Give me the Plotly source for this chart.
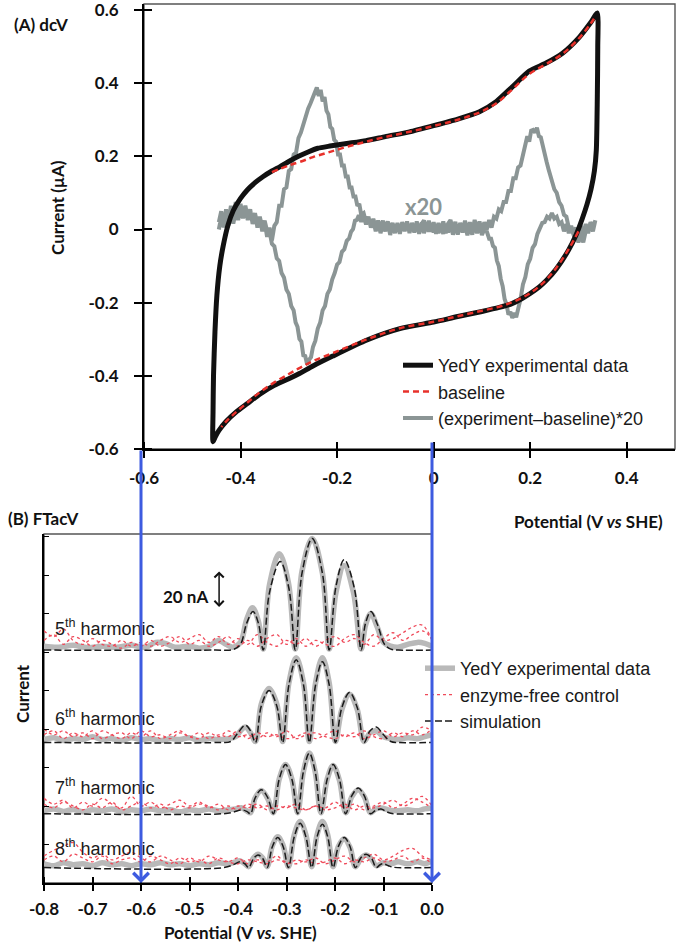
import plotly.graph_objects as go

W, H = 681, 942

# ================= Panel A : dcV =================
dcv_xticks = [-0.6, -0.4, -0.2, 0.0, 0.2, 0.4]
dcv_xticktext = ["-0.6", "-0.4", "-0.2", "0", "0.2", "0.4"]
dcv_yticks = [-0.6, -0.4, -0.2, 0.0, 0.2, 0.4, 0.6]
dcv_yticktext = ["-0.6", "-0.4", "-0.2", "0", "0.2", "0.4", "0.6"]

# YedY experimental dcV loop (V, uA)
cv_loop = [
    (-0.457, -0.580), (-0.457, -0.50), (-0.456, -0.40), (-0.453, -0.28), (-0.449, -0.18),
    (-0.443, -0.10), (-0.436, -0.045), (-0.426, 0.012), (-0.415, 0.052), (-0.400, 0.085),
    (-0.386, 0.108), (-0.370, 0.128), (-0.353, 0.145), (-0.335, 0.160), (-0.318, 0.172),
    (-0.300, 0.186), (-0.280, 0.200), (-0.260, 0.212), (-0.240, 0.222), (-0.215, 0.228),
    (-0.180, 0.235), (-0.140, 0.243), (-0.100, 0.254), (-0.050, 0.267), (0.000, 0.284),
    (0.050, 0.302), (0.095, 0.322), (0.130, 0.350), (0.163, 0.390), (0.198, 0.433),
    (0.233, 0.455), (0.267, 0.482), (0.302, 0.526), (0.325, 0.565), (0.339, 0.592),
    (0.340, 0.500), (0.339, 0.354), (0.337, 0.217), (0.333, 0.160), (0.326, 0.110),
    (0.318, 0.070), (0.308, 0.030), (0.295, -0.015), (0.280, -0.055), (0.254, -0.108),
    (0.235, -0.137), (0.219, -0.157), (0.200, -0.175), (0.184, -0.188), (0.160, -0.204),
    (0.136, -0.213), (0.100, -0.224), (0.050, -0.238), (0.000, -0.253), (-0.070, -0.271),
    (-0.138, -0.302), (-0.209, -0.346), (-0.250, -0.373), (-0.277, -0.393), (-0.300, -0.408),
    (-0.330, -0.426), (-0.360, -0.450), (-0.385, -0.475), (-0.410, -0.500), (-0.430, -0.525),
    (-0.445, -0.550), (-0.452, -0.566), (-0.457, -0.580),
]

# baseline (capacitive) upper and lower branches
baseline_up = [
    (-0.335, 0.157), (-0.300, 0.175), (-0.270, 0.188), (-0.250, 0.198), (-0.220, 0.210),
    (-0.180, 0.226), (-0.140, 0.240), (-0.100, 0.253), (-0.050, 0.267), (0.000, 0.283),
    (0.050, 0.300), (0.095, 0.320), (0.130, 0.345), (0.163, 0.383), (0.198, 0.425),
    (0.233, 0.452), (0.267, 0.480), (0.302, 0.524), (0.325, 0.562), (0.334, 0.580),
]
baseline_dn = [
    (0.300, -0.005), (0.280, -0.053), (0.254, -0.105), (0.235, -0.135), (0.219, -0.155),
    (0.200, -0.174), (0.184, -0.186), (0.160, -0.200), (0.136, -0.211), (0.100, -0.222),
    (0.050, -0.237), (0.000, -0.252), (-0.070, -0.270), (-0.138, -0.300), (-0.209, -0.338),
    (-0.250, -0.360), (-0.277, -0.378), (-0.300, -0.395), (-0.330, -0.418), (-0.360, -0.445),
    (-0.385, -0.472), (-0.410, -0.500), (-0.430, -0.525), (-0.440, -0.540),
]

# (experiment - baseline) * 20, forward scan
x20_forward = [
    (-0.445, 0.02), (-0.440, 0.05), (-0.435, 0.01), (-0.430, 0.055), (-0.425, 0.02),
    (-0.420, 0.065), (-0.415, 0.025), (-0.410, 0.075), (-0.405, 0.04), (-0.400, 0.07),
    (-0.395, 0.035), (-0.390, 0.065), (-0.385, 0.03), (-0.380, 0.055), (-0.375, 0.015),
    (-0.370, 0.045), (-0.365, 0.005), (-0.360, 0.035), (-0.355, -0.005), (-0.350, 0.02),
    (-0.345, -0.02), (-0.340, 0.005), (-0.335, -0.03), (-0.330, 0.01), (-0.325, 0.02),
    (-0.320, 0.065), (-0.315, 0.065), (-0.310, 0.11), (-0.305, 0.115), (-0.300, 0.16),
    (-0.295, 0.165), (-0.290, 0.205), (-0.285, 0.21), (-0.280, 0.25), (-0.275, 0.265),
    (-0.270, 0.29), (-0.265, 0.305), (-0.260, 0.33), (-0.255, 0.345), (-0.250, 0.36),
    (-0.246, 0.37), (-0.242, 0.388), (-0.238, 0.365), (-0.234, 0.382), (-0.230, 0.35),
    (-0.226, 0.362), (-0.222, 0.325), (-0.218, 0.315), (-0.214, 0.28), (-0.210, 0.275),
    (-0.206, 0.245), (-0.202, 0.24), (-0.198, 0.205), (-0.194, 0.205), (-0.190, 0.175),
    (-0.186, 0.175), (-0.182, 0.145), (-0.178, 0.145), (-0.174, 0.115), (-0.170, 0.115),
    (-0.166, 0.09), (-0.162, 0.09), (-0.158, 0.065), (-0.154, 0.07), (-0.150, 0.04),
    (-0.145, 0.045), (-0.140, 0.02), (-0.135, 0.035), (-0.130, 0.005), (-0.125, 0.025),
    (-0.120, -0.005), (-0.115, 0.02), (-0.110, -0.01), (-0.105, 0.015), (-0.100, -0.005),
    (-0.095, 0.02), (-0.090, -0.015), (-0.085, 0.015), (-0.080, -0.01), (-0.075, 0.018),
    (-0.070, -0.012), (-0.065, 0.02), (-0.060, -0.005), (-0.055, 0.022), (-0.050, -0.01),
    (-0.045, 0.018), (-0.040, -0.005), (-0.035, 0.022), (-0.030, -0.012), (-0.025, 0.015),
    (-0.020, 0.025), (-0.015, -0.004), (-0.010, 0.024), (-0.005, -0.006), (0.000, 0.02),
    (0.005, -0.012), (0.010, 0.018), (0.015, -0.006), (0.020, 0.022), (0.025, -0.01),
    (0.030, 0.016), (0.035, 0.026), (0.040, -0.006), (0.045, 0.021), (0.050, -0.014),
    (0.055, 0.018), (0.060, -0.004), (0.065, 0.024), (0.070, -0.01), (0.075, 0.02),
    (0.080, -0.006), (0.085, 0.026), (0.090, -0.002), (0.095, 0.022), (0.100, -0.008),
    (0.105, 0.02), (0.110, 0.0), (0.115, 0.026), (0.120, 0.005), (0.125, 0.035),
    (0.130, 0.03), (0.135, 0.055), (0.140, 0.05), (0.145, 0.075), (0.150, 0.075),
    (0.155, 0.105), (0.160, 0.105), (0.165, 0.14), (0.170, 0.14), (0.175, 0.17),
    (0.180, 0.175), (0.185, 0.205), (0.190, 0.23), (0.194, 0.255), (0.198, 0.24),
    (0.202, 0.27), (0.206, 0.272), (0.210, 0.265), (0.214, 0.278), (0.218, 0.255),
    (0.222, 0.252), (0.226, 0.225), (0.230, 0.21), (0.234, 0.185), (0.238, 0.165),
    (0.242, 0.145), (0.246, 0.13), (0.250, 0.11), (0.255, 0.1), (0.260, 0.075),
    (0.265, 0.065), (0.270, 0.04), (0.275, 0.035), (0.280, 0.005), (0.285, 0.005),
    (0.290, -0.015), (0.295, -0.015), (0.300, -0.035), (0.305, -0.015), (0.310, -0.035),
    (0.315, -0.005), (0.320, -0.005), (0.325, 0.02), (0.330, 0.005), (0.335, 0.025),
]
# reverse scan
x20_reverse = [
    (0.330, -0.005), (0.325, 0.015), (0.320, -0.01), (0.315, 0.015), (0.310, -0.015),
    (0.305, 0.01), (0.300, -0.02), (0.295, 0.005), (0.290, -0.01), (0.285, 0.01),
    (0.280, -0.01), (0.275, 0.015), (0.270, -0.005), (0.265, 0.02), (0.260, 0.015),
    (0.255, 0.035), (0.250, 0.03), (0.245, 0.045), (0.240, 0.03), (0.235, 0.035),
    (0.230, 0.02), (0.225, 0.018), (0.220, 0.0), (0.215, -0.012), (0.210, -0.04),
    (0.205, -0.05), (0.200, -0.08), (0.195, -0.095), (0.190, -0.13), (0.185, -0.15),
    (0.180, -0.19), (0.175, -0.215), (0.171, -0.24), (0.167, -0.228), (0.163, -0.242),
    (0.159, -0.225), (0.155, -0.233), (0.151, -0.205), (0.147, -0.19), (0.143, -0.155),
    (0.139, -0.135), (0.135, -0.1), (0.131, -0.085), (0.127, -0.05), (0.123, -0.045),
    (0.119, -0.025), (0.115, -0.025), (0.110, -0.005), (0.105, 0.0), (0.100, -0.015),
    (0.095, 0.012), (0.090, -0.01), (0.085, 0.015), (0.080, -0.014), (0.075, 0.01),
    (0.070, -0.016), (0.065, 0.012), (0.060, -0.008), (0.055, 0.016), (0.050, -0.012),
    (0.045, 0.01), (0.040, -0.014), (0.035, 0.014), (0.030, -0.008), (0.025, 0.016),
    (0.020, -0.012), (0.015, 0.01), (0.010, -0.01), (0.005, 0.014), (0.000, -0.008),
    (-0.005, 0.016), (-0.010, -0.006), (-0.015, 0.014), (-0.020, -0.01), (-0.025, 0.018),
    (-0.030, -0.004), (-0.035, 0.016), (-0.040, -0.008), (-0.045, 0.014), (-0.050, -0.004),
    (-0.055, 0.018), (-0.060, -0.002), (-0.065, 0.02), (-0.070, -0.004), (-0.075, 0.016),
    (-0.080, -0.006), (-0.085, 0.018), (-0.090, 0.0), (-0.095, 0.022), (-0.100, 0.002),
    (-0.105, 0.024), (-0.110, 0.004), (-0.115, 0.024), (-0.120, 0.008), (-0.125, 0.029),
    (-0.130, 0.011), (-0.135, 0.032), (-0.140, 0.014), (-0.145, 0.036), (-0.150, 0.021),
    (-0.155, 0.039), (-0.159, 0.026), (-0.163, 0.024), (-0.167, 0.001), (-0.171, -0.006),
    (-0.175, -0.024), (-0.180, -0.031), (-0.185, -0.054), (-0.190, -0.061), (-0.195, -0.089),
    (-0.200, -0.096), (-0.205, -0.119), (-0.210, -0.136), (-0.215, -0.164), (-0.220, -0.176),
    (-0.225, -0.209), (-0.230, -0.221), (-0.235, -0.254), (-0.240, -0.271), (-0.245, -0.304),
    (-0.250, -0.321), (-0.254, -0.349), (-0.258, -0.356), (-0.262, -0.369), (-0.266, -0.346),
    (-0.270, -0.344), (-0.274, -0.306), (-0.278, -0.299), (-0.282, -0.266), (-0.286, -0.254),
    (-0.290, -0.221), (-0.295, -0.209), (-0.300, -0.176), (-0.305, -0.164), (-0.310, -0.131),
    (-0.315, -0.119), (-0.320, -0.086), (-0.325, -0.079), (-0.330, -0.046), (-0.335, -0.039),
    (-0.340, -0.006), (-0.345, -0.004), (-0.350, 0.024), (-0.355, 0.006), (-0.360, 0.034),
    (-0.365, 0.016), (-0.370, 0.044), (-0.375, 0.021), (-0.380, 0.049), (-0.385, 0.026),
    (-0.390, 0.054), (-0.395, 0.031), (-0.400, 0.054), (-0.405, 0.026), (-0.410, 0.049),
    (-0.415, 0.016), (-0.420, 0.044), (-0.425, 0.011), (-0.430, 0.039), (-0.435, 0.006),
    (-0.440, 0.034), (-0.445, 0.0),
]

# ================= Panel B : FTacV =================
ftacv_xticks = [-0.8, -0.7, -0.6, -0.5, -0.4, -0.3, -0.2, -0.1, 0.0]
ftacv_xticktext = ["-0.8", "-0.7", "-0.6", "-0.5", "-0.4", "-0.3", "-0.2", "-0.1", "0.0"]
ftacv_yticks = [0, 20, 40, 60, 80, 100, 120, 140, 160, 180]   # nA
harmonic_numbers = [5, 6, 7, 8]
harmonic_offsets = [121, 73, 36, 8]                            # nA stacking offsets

sim5 = [(-0.80, 0), (-0.45, 0), (-0.41, 0.3), (-0.395, 3), (-0.382, 14), (-0.369, 20),
        (-0.358, 14), (-0.348, 0), (-0.335, 30), (-0.313, 46), (-0.295, 32), (-0.282, 0),
        (-0.268, 40), (-0.247, 58), (-0.226, 40), (-0.212, 0), (-0.198, 33), (-0.181, 47),
        (-0.160, 32), (-0.146, 0), (-0.137, 14), (-0.126, 20), (-0.112, 13), (-0.098, 3),
        (-0.085, 0.5), (-0.07, 0), (0.0, 0)]
sim6 = [(-0.80, 0), (-0.44, 0), (-0.415, 0.5), (-0.40, 5), (-0.385, 9), (-0.374, 6),
        (-0.364, 0), (-0.352, 19), (-0.336, 27), (-0.32, 19), (-0.308, 0), (-0.295, 30),
        (-0.28, 43), (-0.265, 30), (-0.253, 0), (-0.24, 30), (-0.226, 42), (-0.212, 30),
        (-0.199, 0), (-0.186, 18), (-0.17, 26), (-0.154, 18), (-0.14, 0), (-0.128, 6),
        (-0.115, 8), (-0.10, 4), (-0.085, 0.5), (-0.07, 0), (0.0, 0)]
sim7 = [(-0.80, 0), (-0.43, 0), (-0.41, 0.8), (-0.392, 2), (-0.382, 1.2), (-0.374, 0),
        (-0.365, 8), (-0.352, 12.5), (-0.339, 8.5), (-0.327, 0), (-0.315, 18), (-0.302, 25.5),
        (-0.289, 18), (-0.277, 0), (-0.265, 22), (-0.253, 31.5), (-0.241, 22), (-0.229, 0),
        (-0.216, 18), (-0.204, 25.5), (-0.191, 18), (-0.178, 0), (-0.165, 9.5), (-0.152, 13.3),
        (-0.139, 9), (-0.127, 0), (-0.116, 1.8), (-0.105, 2.4), (-0.095, 1.2), (-0.085, 0.2),
        (0.0, 0)]
sim8 = [(-0.80, 0), (-0.43, 0), (-0.41, 1.5), (-0.396, 3), (-0.386, 2), (-0.378, 0),
        (-0.368, 4.7), (-0.359, 6.6), (-0.349, 4.7), (-0.340, 0), (-0.329, 11), (-0.318, 15.6),
        (-0.307, 11), (-0.296, 0), (-0.284, 16), (-0.272, 23), (-0.260, 16), (-0.248, 0),
        (-0.237, 16), (-0.226, 22.5), (-0.215, 16), (-0.204, 0), (-0.193, 11), (-0.181, 15.6),
        (-0.169, 11), (-0.158, 0), (-0.147, 5), (-0.136, 7), (-0.125, 5), (-0.115, 0),
        (-0.107, 1.5), (-0.10, 2), (-0.09, 1), (-0.08, 0.2), (0.0, 0)]

exp5 = [(-0.80, 2), (-0.77, 1.5), (-0.74, 2.5), (-0.71, 1.2), (-0.68, 2), (-0.65, 1.5),
        (-0.62, 2.5), (-0.59, 1.5), (-0.57, 4), (-0.55, 3.5), (-0.53, 1.5), (-0.50, 2),
        (-0.48, 1), (-0.46, 2), (-0.44, 5), (-0.425, 3), (-0.41, 1.5), (-0.395, 4),
        (-0.382, 16), (-0.370, 22), (-0.358, 15), (-0.348, 0.5), (-0.335, 34), (-0.315, 50),
        (-0.296, 35), (-0.282, 0.5), (-0.268, 41), (-0.247, 58), (-0.226, 40), (-0.212, 0.5),
        (-0.198, 30), (-0.181, 44), (-0.162, 30), (-0.146, 0.5), (-0.137, 13), (-0.126, 19),
        (-0.113, 12), (-0.10, 4), (-0.085, 2), (-0.07, 1.5), (-0.05, 3), (-0.03, 4),
        (-0.015, 3.5), (0.0, 2)]
exp6 = [(-0.80, 1.5), (-0.78, 2.5), (-0.76, 1), (-0.74, 2), (-0.72, 1.5), (-0.70, 3),
        (-0.68, 1.5), (-0.66, 2), (-0.64, 1), (-0.62, 2.5), (-0.60, 1.5), (-0.58, 2),
        (-0.56, 1), (-0.54, 2), (-0.52, 1.5), (-0.50, 2.5), (-0.48, 1), (-0.46, 2),
        (-0.44, 1.5), (-0.42, 2), (-0.405, 3), (-0.395, 6), (-0.385, 8), (-0.374, 5),
        (-0.364, 0.5), (-0.352, 20), (-0.336, 28), (-0.32, 20), (-0.308, 0.5), (-0.295, 31),
        (-0.28, 44), (-0.265, 31), (-0.253, 0.5), (-0.24, 31), (-0.226, 44), (-0.212, 31),
        (-0.199, 0.5), (-0.186, 17), (-0.17, 25), (-0.154, 17), (-0.14, 0.5), (-0.128, 5),
        (-0.115, 6), (-0.10, 3), (-0.085, 2), (-0.07, 1.5), (-0.05, 2.5), (-0.03, 2),
        (-0.015, 3), (0.0, 4)]
exp7 = [(-0.80, 1.5), (-0.78, 2.5), (-0.76, 1.2), (-0.74, 2.2), (-0.72, 1), (-0.70, 2),
        (-0.68, 1.5), (-0.66, 2.5), (-0.64, 1), (-0.62, 2), (-0.60, 1.5), (-0.58, 2.5),
        (-0.56, 1.5), (-0.54, 2), (-0.52, 1), (-0.50, 2), (-0.48, 1.5), (-0.46, 2.5),
        (-0.44, 1.5), (-0.42, 2), (-0.405, 2.5), (-0.392, 3), (-0.382, 1.5), (-0.374, 0.5),
        (-0.365, 8), (-0.352, 12), (-0.339, 8), (-0.327, 0.5), (-0.315, 18), (-0.302, 25.5),
        (-0.289, 18), (-0.277, 0.5), (-0.265, 22), (-0.253, 31.5), (-0.241, 22), (-0.229, 0.5),
        (-0.216, 18), (-0.204, 25), (-0.191, 17.5), (-0.178, 0.5), (-0.165, 9), (-0.152, 12.5),
        (-0.139, 8.5), (-0.127, 0.5), (-0.116, 2.5), (-0.105, 3), (-0.09, 2), (-0.07, 1.5),
        (-0.05, 2), (-0.03, 1.5), (-0.015, 2.5), (0.0, 3)]
exp8 = [(-0.80, 2), (-0.78, 1), (-0.76, 2.5), (-0.74, 1.5), (-0.72, 2), (-0.70, 1),
        (-0.68, 2.5), (-0.66, 1.5), (-0.64, 2), (-0.62, 1), (-0.60, 2), (-0.58, 1.5),
        (-0.56, 2.5), (-0.54, 1.5), (-0.52, 2), (-0.50, 1), (-0.48, 2), (-0.46, 1.5),
        (-0.44, 2.5), (-0.42, 2), (-0.405, 3), (-0.396, 3.5), (-0.386, 2), (-0.378, 0.5),
        (-0.368, 5), (-0.359, 7), (-0.349, 5), (-0.340, 0.5), (-0.329, 11.5), (-0.318, 16),
        (-0.307, 11.5), (-0.296, 0.5), (-0.284, 17), (-0.272, 24), (-0.260, 17), (-0.248, 0.5),
        (-0.237, 17), (-0.226, 24), (-0.215, 17), (-0.204, 0.5), (-0.193, 11), (-0.181, 15),
        (-0.169, 10.5), (-0.158, 0.5), (-0.147, 4.5), (-0.136, 6.5), (-0.125, 4.5), (-0.115, 1),
        (-0.10, 2.5), (-0.085, 2), (-0.07, 3), (-0.05, 2), (-0.03, 3), (-0.015, 2), (0.0, 3.5)]

control_potential = [-0.80, -0.78, -0.76, -0.74, -0.72, -0.70, -0.68, -0.66, -0.64, -0.62,
                     -0.60, -0.58, -0.56, -0.54, -0.52, -0.50, -0.48, -0.46, -0.44, -0.42,
                     -0.40, -0.38, -0.36, -0.34, -0.32, -0.30, -0.28, -0.26, -0.24, -0.22,
                     -0.20, -0.18, -0.16, -0.14, -0.12, -0.10, -0.08, -0.06, -0.04, -0.02, 0.0]
ctl5a = [10, 7, 11, 5, 3, 6, 3, 2, 5, 2, 4, 2, 5, 7, 4, 6, 8, 4, 7, 3, 6, 3, 8, 4, 2, 5, 3, 6, 2, 5, 7, 4, 6, 3, 8, 5, 6, 9, 12, 13, 5]
ctl5b = [5, 8, 3, 7, 5, 2, 5, 3, 1, 4, 2, 5, 2, 4, 7, 3, 5, 2, 4, 7, 2, 5, 2, 6, 8, 3, 6, 2, 5, 3, 2, 6, 8, 4, 2, 6, 9, 5, 8, 10, 6]
ctl6a = [7, 4, 6, 3, 5, 2, 6, 4, 2, 5, 3, 6, 2, 4, 6, 3, 5, 2, 4, 3, 6, 2, 5, 3, 4, 2, 3, 5, 2, 4, 6, 3, 5, 2, 4, 6, 3, 5, 4, 8, 6]
ctl6b = [4, 6, 2, 5, 3, 6, 2, 4, 5, 2, 6, 3, 4, 2, 5, 3, 2, 5, 3, 6, 3, 4, 2, 5, 3, 6, 2, 4, 5, 3, 2, 4, 3, 6, 3, 2, 5, 3, 6, 4, 7]
ctl7a = [8, 5, 7, 3, 6, 4, 8, 5, 3, 9, 4, 6, 3, 5, 7, 4, 6, 3, 5, 2, 4, 3, 5, 2, 4, 3, 5, 2, 4, 3, 6, 3, 5, 2, 4, 6, 3, 5, 8, 6, 3]
ctl7b = [5, 3, 6, 4, 2, 5, 3, 6, 2, 4, 6, 3, 5, 2, 4, 3, 5, 4, 2, 4, 2, 5, 3, 4, 2, 4, 3, 2, 4, 2, 3, 5, 2, 4, 3, 5, 7, 4, 6, 9, 4]
ctl8a = [6, 9, 11, 13, 8, 5, 7, 4, 6, 8, 5, 3, 6, 4, 2, 5, 3, 6, 4, 3, 5, 2, 4, 3, 6, 2, 4, 3, 5, 2, 4, 6, 3, 5, 7, 4, 6, 9, 10, 6, 4]
ctl8b = [4, 6, 3, 7, 5, 3, 6, 2, 4, 5, 3, 6, 4, 2, 5, 3, 4, 2, 5, 3, 2, 4, 3, 2, 4, 3, 2, 4, 2, 3, 5, 2, 4, 3, 5, 3, 4, 6, 3, 5, 2]

sims = [sim5, sim6, sim7, sim8]
exps = [exp5, exp6, exp7, exp8]
controls = [(ctl5a, ctl5b), (ctl6a, ctl6b), (ctl7a, ctl7b), (ctl8a, ctl8b)]


def px(p):
    return [a for a, _ in p]


def py(p, off=0):
    return [b + off for _, b in p]


# ---- colours / fonts ----
BLACK = "#111111"
RED = "#e8312b"
GRAY_A = "#8b9595"
GRAY_B = "#b9b9b9"
RED_DOT = "#ef4a5a"
BLUE = "#3d5be0"
BOLD = dict(family="Lato, Open Sans, sans-serif", size=17, color="#111111", weight=700)
REG = "Liberation Sans, Arial, sans-serif"

fig = go.Figure()

# ----- Panel A traces -----
fig.add_trace(go.Scatter(x=px(x20_forward) + px(x20_reverse), y=py(x20_forward) + py(x20_reverse),
                         mode="lines", line=dict(color=GRAY_A, width=4),
                         name="(experiment\u2013baseline)*20", legend="legend", legendrank=3,
                         xaxis="x", yaxis="y"))
fig.add_trace(go.Scatter(x=px(cv_loop), y=py(cv_loop), mode="lines",
                         line=dict(color=BLACK, width=5, shape="spline", smoothing=0.6),
                         name="YedY experimental data", legend="legend", legendrank=1,
                         xaxis="x", yaxis="y"))
fig.add_trace(go.Scatter(x=px(baseline_up) + [None] + px(baseline_dn),
                         y=py(baseline_up) + [None] + py(baseline_dn), mode="lines",
                         line=dict(color=RED, width=2.5, dash="6px,4px", shape="spline"),
                         name="baseline", legend="legend", legendrank=2,
                         xaxis="x", yaxis="y"))

# ----- Panel B traces -----
for k, (n, off) in enumerate(zip(harmonic_numbers, harmonic_offsets)):
    e = exps[k]
    fig.add_trace(go.Scatter(x=px(e), y=py(e, off), mode="lines",
                             line=dict(color=GRAY_B, width=5.5, shape="spline"),
                             name="YedY experimental data", legend="legend2", legendrank=1,
                             showlegend=(k == 0), xaxis="x2", yaxis="y2"))
for k, (n, off) in enumerate(zip(harmonic_numbers, harmonic_offsets)):
    for j, c in enumerate(controls[k]):
        fig.add_trace(go.Scatter(x=control_potential, y=[v + off for v in c], mode="lines",
                                 line=dict(color=RED_DOT, width=1.3, dash="dot", shape="spline"),
                                 name="enzyme-free control", legend="legend2", legendrank=2,
                                 showlegend=(k == 0 and j == 0), xaxis="x2", yaxis="y2"))
for k, (n, off) in enumerate(zip(harmonic_numbers, harmonic_offsets)):
    s = sims[k]
    fig.add_trace(go.Scatter(x=px(s), y=py(s, off), mode="lines",
                             line=dict(color="#1a1a1a", width=1.5, dash="7px,3px", shape="spline"),
                             name="simulation", legend="legend2", legendrank=3,
                             showlegend=(k == 0), xaxis="x2", yaxis="y2"))

# ----- axes -----
eps = 1e-4
fig.update_layout(
    width=W, height=H, margin=dict(l=0, r=0, t=0, b=0, autoexpand=False),
    paper_bgcolor="white", plot_bgcolor="white",
    xaxis=dict(domain=[144 / W, 675 / W], range=[-0.6, 0.5], anchor="y", automargin=False,
               tickmode="array", tickvals=dcv_xticks, ticktext=dcv_xticktext,
               ticks="outside", ticklen=7, tickwidth=1.5, tickcolor="black",
               minor=dict(tickmode="array", tickvals=[v + eps for v in dcv_xticks],
                          ticks="inside", ticklen=7, tickwidth=1.5, tickcolor="black"),
               showline=True, linecolor="black", linewidth=2, showgrid=False, zeroline=False,
               tickfont=BOLD, ticklabelstandoff=6, ticklabeloverflow="allow"),
    yaxis=dict(domain=[1 - 449 / H, 1 - 4 / H], range=[-0.6, 0.6164], anchor="x", automargin=False,
               tickmode="array", tickvals=dcv_yticks, ticktext=dcv_yticktext,
               ticks="outside", ticklen=8, tickwidth=1.5, tickcolor="black",
               minor=dict(tickmode="array", tickvals=[v + eps for v in dcv_yticks],
                          ticks="inside", ticklen=8, tickwidth=1.5, tickcolor="black"),
               showline=True, linecolor="black", linewidth=2, showgrid=False, zeroline=False,
               tickfont=BOLD, ticklabelstandoff=12, ticklabeloverflow="allow"),
    xaxis2=dict(domain=[44 / W, 432 / W], range=[-0.8, 0.0], anchor="y2", automargin=False,
                tickmode="array", tickvals=ftacv_xticks, ticktext=ftacv_xticktext,
                ticks="outside", ticklen=6, tickwidth=1.5, tickcolor="black",
                minor=dict(tickmode="array", tickvals=[v + eps for v in ftacv_xticks],
                           ticks="inside", ticklen=6, tickwidth=1.5, tickcolor="black"),
                showline=True, linecolor="black", linewidth=1.5, showgrid=False, zeroline=False,
                tickfont=BOLD, ticklabelstandoff=4, ticklabeloverflow="allow"),
    yaxis2=dict(domain=[1 - 883 / H, 1 - 534 / H], range=[0, 181.3], anchor="x2", automargin=False,
                tickmode="array", tickvals=ftacv_yticks, showticklabels=False,
                ticks="inside", ticklen=5, tickwidth=1.3, tickcolor="black",
                showline=True, linecolor="black", linewidth=1.5, showgrid=False, zeroline=False),
    legend=dict(x=398 / W, y=1 - 347 / H, xanchor="left", yanchor="top",
                bgcolor="rgba(0,0,0,0)", font=dict(family=REG, size=18, color="#1a1a1a"),
                itemwidth=30, tracegroupgap=0),
    legend2=dict(x=420 / W, y=1 - 650 / H, xanchor="left", yanchor="top",
                 bgcolor="rgba(0,0,0,0)", font=dict(family=REG, size=18, color="#1a1a1a"),
                 itemwidth=30, tracegroupgap=0),
    showlegend=True,
)

fig.add_shape(type="rect", xref="x domain", yref="y domain", x0=0, x1=1, y0=0, y1=1,
              line=dict(color="#555555", width=1.4), layer="below")
fig.add_shape(type="rect", xref="x2 domain", yref="y2 domain", x0=0, x1=1, y0=0, y1=1,
              line=dict(color="#555555", width=1.4), layer="below")

ann = []
# panel titles & axis titles
ann.append(dict(text="(A) dcV", x=12 / W, y=1 - 25 / H, xref="paper", yref="paper",
                xanchor="left", yanchor="middle", showarrow=False, font=BOLD))
ann.append(dict(text="(B) FTacV", x=6 / W, y=1 - 518 / H, xref="paper", yref="paper",
                xanchor="left", yanchor="middle", showarrow=False, font=BOLD))
ann.append(dict(text="Current (\u00b5A)", x=58 / W, y=1 - 208 / H, xref="paper", yref="paper",
                textangle=-90, xanchor="center", yanchor="middle", showarrow=False, font=BOLD))
ann.append(dict(text="Potential (V <i>vs</i> SHE)", x=665 / W, y=1 - 521 / H, xref="paper",
                yref="paper", xanchor="right", yanchor="middle", showarrow=False, font=BOLD))
ann.append(dict(text="Current", x=22 / W, y=1 - 694 / H, xref="paper", yref="paper",
                textangle=-90, xanchor="center", yanchor="middle", showarrow=False, font=BOLD))
ann.append(dict(text="Potential (V <i>vs.</i> SHE)", x=240 / W, y=1 - 932 / H, xref="paper",
                yref="paper", xanchor="center", yanchor="middle", showarrow=False, font=BOLD))
# x20 label
ann.append(dict(text="x20", x=-0.02, y=0.062, xref="x", yref="y", showarrow=False,
                font=dict(family="Lato, sans-serif", size=22, color=GRAY_A, weight=700)))
# harmonic labels
harm_label_y = [132.5, 86.2, 49.9, 18.7]
for n, yy in zip(harmonic_numbers, harm_label_y):
    ann.append(dict(text=f"{n}<sup>th</sup> harmonic", x=-0.782, y=yy, xref="x2", yref="y2",
                    xanchor="left", yanchor="middle", showarrow=False,
                    font=dict(family=REG, size=18, color="#1a1a1a")))
# 20 nA scale bar
ann.append(dict(text="20 nA", x=-0.509, y=148.6, xref="x2", yref="y2", showarrow=False,
                font=BOLD))
ann.append(dict(text="", x=-0.439, y=143.4, xref="x2", yref="y2", showarrow=True,
                ax=0, ay=-37, arrowside="end+start", arrowhead=4, arrowsize=1.2,
                arrowwidth=1.5, arrowcolor="#111111", standoff=0, startstandoff=0))
# blue alignment arrows
ann.append(dict(text="", x=-0.6, y=0, xref="x2", yref="y2", showarrow=True,
                ax=0, ay=-434, arrowhead=4, arrowsize=1.0, arrowwidth=3, arrowcolor=BLUE,
                standoff=0))
ann.append(dict(text="", x=0.0, y=0, xref="x2", yref="y2", showarrow=True,
                ax=0, ay=-442, arrowhead=4, arrowsize=1.0, arrowwidth=3, arrowcolor=BLUE,
                standoff=0))
fig.update_layout(annotations=ann)

# remove the default 8px page margin so the 681x942 figure fills the window exactly
fig.write_html("out.html", config={"displayModeBar": False},
               post_script="document.body.style.margin='0px';")
